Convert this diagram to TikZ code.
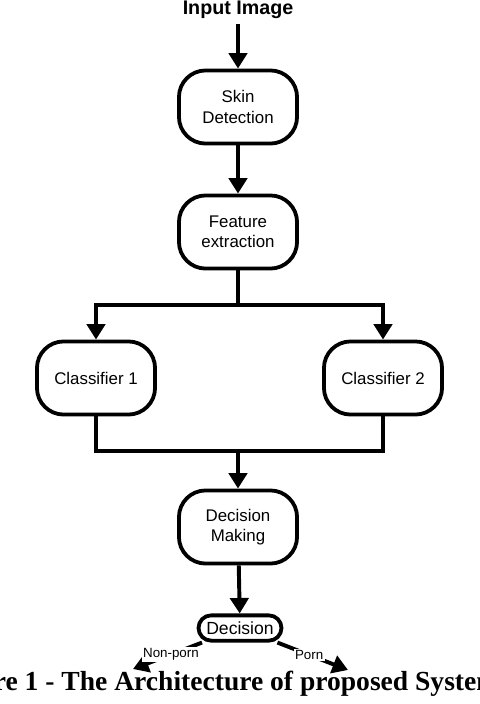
\documentclass[tikz,border=0pt]{standalone}
\usepackage{fontspec}
\setmainfont{Liberation Sans}
\newfontfamily\capfont{Liberation Serif}
\usetikzlibrary{arrows.meta}

\begin{document}
\begin{tikzpicture}[x=0.025cm,y=-0.025cm,
        box/.style={draw,line width=2.7pt,rounded corners=19pt,minimum width=84pt,
            minimum height=52pt,align=center,font=\fontsize{12}{14.5}\selectfont},
        link/.style={line width=2.8pt,-{Triangle[length=11pt,width=13pt]}},
        wire/.style={line width=2.8pt},
        tag/.style={pos=0.45,fill=white,inner sep=1pt,font=\fontsize{9.5}{11}\selectfont}]
        \useasboundingbox (0,0) rectangle (480,704);
        \node[font=\fontsize{14}{16}\selectfont\bfseries] (input) at (238,10) {Input Image};
        \node[box] (skin) at (238,107) {Skin\\Detection};
        \node[box] (feature) at (238,232) {Feature\\extraction};
        \node[box] (class1) at (96,378) {Classifier 1};
        \node[box] (class2) at (383,378) {Classifier 2};
        \node[box] (making) at (238,527) {Decision\\Making};
        \node[draw,line width=2.7pt,rounded corners=9pt,minimum width=59pt,minimum height=18pt,
            inner sep=1pt,font=\fontsize{12.5}{14}\selectfont] (decision) at (240,628) {Decision};
        \coordinate (split) at (238,305);
        \coordinate (join) at (238,451);
        \coordinate (nonporn) at (133,669);
        \coordinate (porn) at (348,670);
        \draw[link] (input) -- (skin);
        \draw[link] (skin) -- (feature);
        \draw[wire] (feature) -- (split);
        \draw[link] (split) -| (class1);
        \draw[link] (split) -| (class2);
        \draw[wire] (class1) |- (join);
        \draw[wire] (class2) |- (join);
        \draw[link] (join) -- (making);
        \draw[link] (making) -- (decision);
        \draw[link] (decision) -- node[tag]{Non-porn}(nonporn);
        \draw[link] (decision) -- node[tag]{Porn}(porn);
        \node[anchor=base west,inner sep=0pt,font=\capfont\fontsize{19.6}{22}\selectfont\bfseries] (caption) at (-60,690) {Figure 1 - The Architecture of proposed System};
    \end{tikzpicture}
\end{document}
